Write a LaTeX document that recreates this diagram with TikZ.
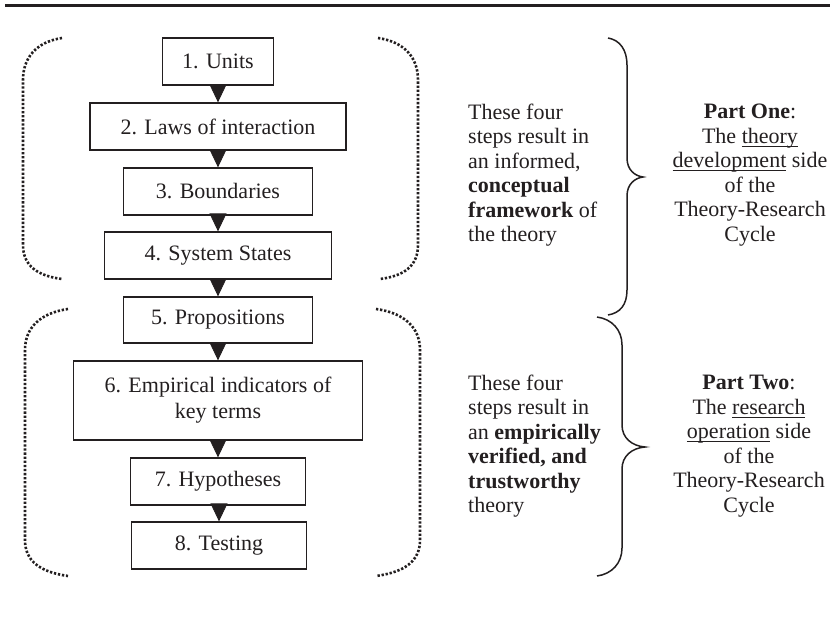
\documentclass[tikz,border=0pt]{standalone}
\usepackage{fontspec}
\setmainfont{Liberation Serif}
\usetikzlibrary{arrows.meta}
\newcommand\ulfix[1]{\setbox0\hbox{#1}\rlap{\rule[-3.6pt]{\wd0}{1.1pt}}\box0\relax}
\definecolor{ink}{HTML}{231F20}
\begin{document}
\begin{tikzpicture}[x=1pt,y=-1pt,
  every node/.style={font=\fontsize{22}{24.5}\selectfont, text=ink},
  stepbox/.style={draw=ink, line width=1.3pt, inner sep=0pt, align=center, minimum height=47pt},
  arr/.style={draw=ink, line width=0.8pt, -{Triangle[width=17pt,length=18pt]}, shorten >=0pt},
  dotbr/.style={draw=ink, line width=2.6pt, dash pattern=on 2.3pt off 1.8pt},
  brace/.style={draw=ink, line width=1.5pt},
  sidetext/.style={inner sep=0pt, align=left, anchor=west},
  parttext/.style={inner sep=0pt, align=center}]
\useasboundingbox (0,0) rectangle (830,624);
\fill[white] (0,0) rectangle (830,624);
\coordinate (ruleL) at (5,5);
\coordinate (ruleR) at (830,5);
\draw[ink, line width=3pt] (ruleL) -- (ruleR);

\node[stepbox, minimum width=111pt] (b1) at (218,61.5) {1. Units};
\node[stepbox, minimum width=256pt] (b2) at (218,126.5) {2. Laws of interaction};
\node[stepbox, minimum width=189pt] (b3) at (218,191.5) {3. Boundaries};
\node[stepbox, minimum width=227pt] (b4) at (218,255.5) {4. System States};
\node[stepbox, minimum width=189pt, minimum height=46pt] (b5) at (218,320) {5. Propositions};
\node[stepbox, minimum width=289pt, minimum height=79pt, font=\fontsize{22}{26}\selectfont] (b6) at (218,400.5) {6. Empirical indicators of\\key terms};
\node[stepbox, minimum width=175pt] (b7) at (218,481.5) {7. Hypotheses};
\node[stepbox, minimum width=175pt] (b8) at (219,545.5) {8. Testing};

\draw[arr] (b1.south) -- (b2.north);
\draw[arr] (b2.south) -- (b3.north);
\draw[arr] (b3.south) -- (b4.north);
\draw[arr] (b4.south) -- (b5.north);
\draw[arr] (b5.south) -- (b6.north);
\draw[arr] (b6.south) -- (b7.north);
\draw[arr] (b7.south -| b8.north) -- (b8.north);

% dotted brackets
\draw[dotbr] (62,38) .. controls (36,42) and (23,58) .. (23,80) -- (23,245) .. controls (23,266) and (38,276) .. (62,279);
\draw[dotbr] (378,38) .. controls (405,42) and (418,58) .. (418,80) -- (418,245) .. controls (418,266) and (404,276) .. (380,279);
\draw[dotbr] (68,309) .. controls (40,313) and (25,328) .. (25,350) -- (25,540) .. controls (25,561) and (40,572) .. (68,576);
\draw[dotbr] (376,309) .. controls (405,313) and (420,328) .. (420,350) -- (420,540) .. controls (420,561) and (405,572) .. (376,576);

% braces
\draw[brace] (608,38) .. controls (620,40) and (627,50) .. (627,65) -- (627,158) .. controls (627,170) and (635,176) .. (643,177) .. controls (635,178) and (627,184) .. (627,196) -- (627,290) .. controls (627,305) and (620,313) .. (608,315);
\draw[brace] (597,317) .. controls (612,319) and (622,330) .. (622,345) -- (622,425) .. controls (622,438) and (632,446) .. (645,447) .. controls (632,448) and (622,456) .. (622,469) -- (622,548) .. controls (622,563) and (612,574) .. (597,576);

\node[sidetext] (t1) at (468,175) {These four\\steps result in\\an informed,\\\textbf{conceptual}\\\textbf{framework} of\\the theory};
\node[parttext] (p1) at (750,175) {\textbf{Part One}:\\The \ulfix{theory}\\\ulfix{development} side\\of the\\Theory-Research\\Cycle};
\node[sidetext] (t2) at (468,446) {These four\\steps result in\\an \textbf{empirically}\\\textbf{verified, and}\\\textbf{trustworthy}\\theory};
\node[parttext] (p2) at (749,446) {\textbf{Part Two}:\\The \ulfix{research}\\\ulfix{operation} side\\of the\\Theory-Research\\Cycle};
\end{tikzpicture}
\end{document}
